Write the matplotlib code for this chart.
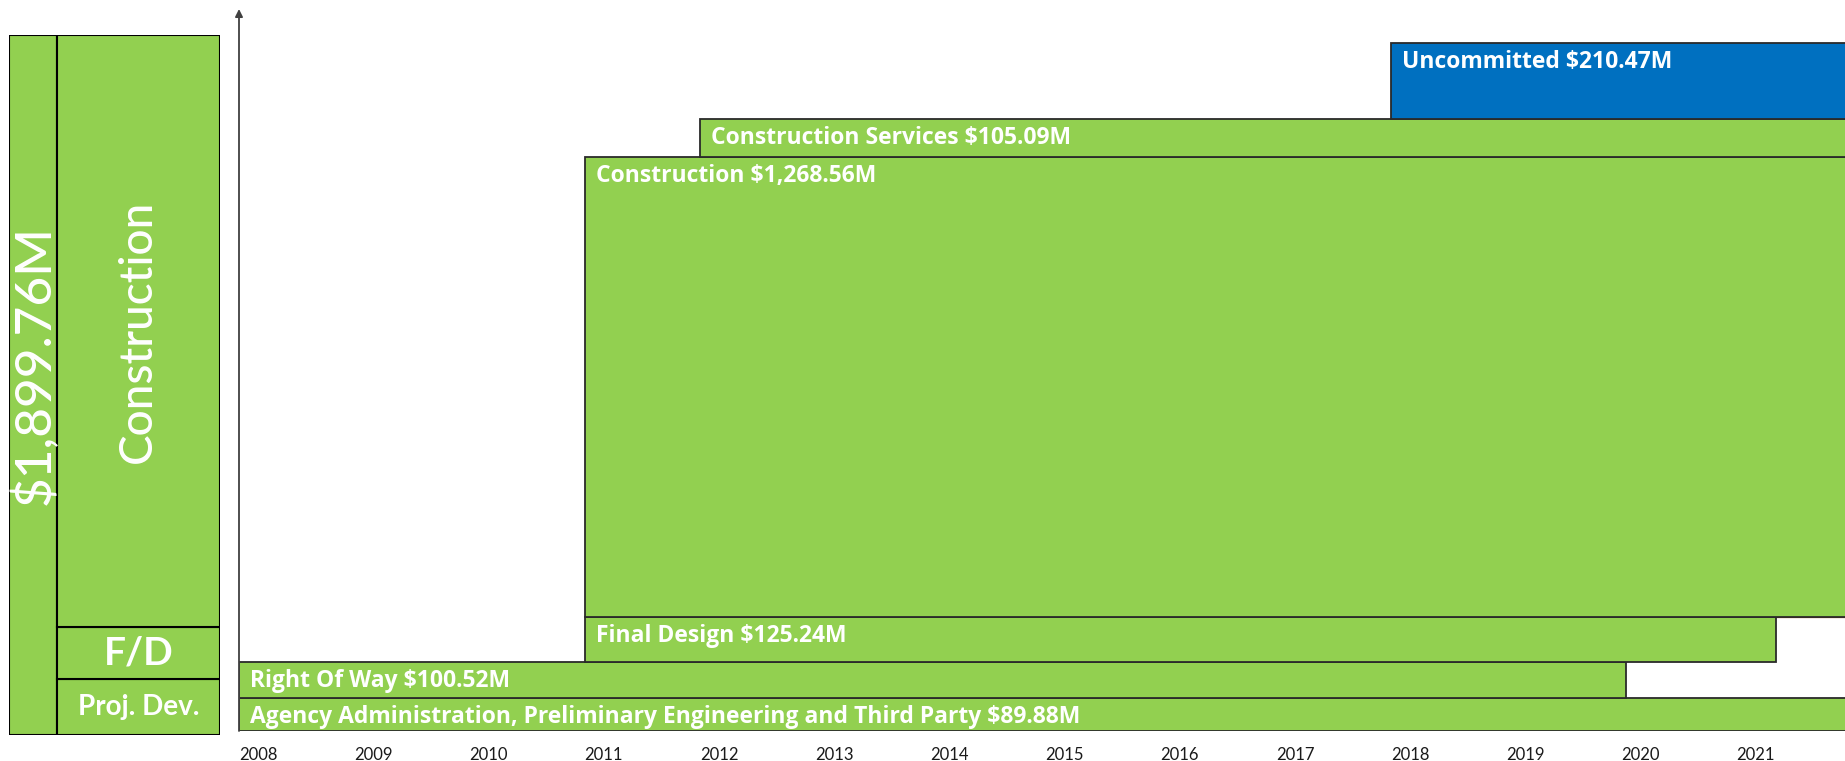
import matplotlib
matplotlib.use("Agg")
import matplotlib.pyplot as plt
from matplotlib.patches import Rectangle

# ---- data ----
labels = ["Agency Administration, Preliminary Engineering and Third Party",
          "Right Of Way", "Final Design", "Construction",
          "Construction Services", "Uncommitted"]
values = [89.88, 100.52, 125.24, 1268.56, 105.09, 210.47]
starts = [2008.0, 2008.0, 2011.0, 2011.0, 2012.0, 2018.0]
ends = [2023.0, 2020.04, 2021.34, 2023.0, 2023.0, 2023.0]
colors = ["#92D050", "#92D050", "#92D050", "#92D050", "#92D050", "#0070C0"]
years = list(range(2008, 2022))
total_label = "$1,899.76M"
panel_labels = ["Proj. Dev.", "F/D", "Construction"]
panel_fracs = [0.080, 0.074, 0.846]

W, H = 1845, 761
fig = plt.figure(figsize=(W / 100, H / 100), dpi=100)
plt.rcParams['font.family'] = ['Lato', 'DejaVu Sans']


def px_axes(x0, y_top, x1, y_bot):
    return fig.add_axes([x0 / W, (H - y_bot) / H, (x1 - x0) / W, (y_bot - y_top) / H])


# ---- main chart ----
ax = px_axes(239, 9, 1845, 731)
px_per_m = (731 - 43) / sum(values)
ax.set_ylim(0, (731 - 9) / px_per_m)
ax.set_xlim(2008, 2008 + (1845 - 239) / 115.2)

bottom = 0.0
for lab, v, s, e, c in zip(labels, values, starts, ends, colors):
    ax.bar(s, v, width=e - s, bottom=bottom, align='edge', color=c,
           edgecolor='#2a2a2a', linewidth=1.3, clip_on=True, zorder=2)
    txt = f"{lab} ${v:,.2f}M"
    ax.annotate(txt, xy=(s, bottom + v), xytext=(8, -18), textcoords='offset points',
                ha='left', va='baseline', color='white', fontsize=16.5, fontweight='bold',
                family=['Open Sans', 'DejaVu Sans'], zorder=5)
    bottom += v

# thin red line where Final Design ends
fd_top = sum(values[:3])
ax.plot([ends[2], 2023], [fd_top, fd_top], color='#A0300A', lw=1.6, zorder=1)

for sp in ['top', 'right', 'bottom', 'left']:
    ax.spines[sp].set_visible(False)
ax.set_yticks([])
ax.set_xticks(years)
ax.set_xticklabels([str(y) for y in years], ha='left', fontsize=12, color='#1a1a1a')
ax.tick_params(axis='x', length=0, pad=11.5)
ax.annotate('', xy=(0, 1), xytext=(0, 0), xycoords='axes fraction',
            arrowprops=dict(arrowstyle='-|>', color='#404040', lw=1.3,
                            mutation_scale=11, shrinkA=0, shrinkB=0))

# ---- left summary panel ----
pax = px_axes(9, 35, 220, 735)
pax.set_xlim(0, 1)
pax.set_ylim(0, 1)
pax.axis('off')
split = (56.5 - 9) / (220 - 9)
pax.add_patch(Rectangle((0, 0), split, 1, facecolor='#92D050', edgecolor='black', lw=1.5))
pax.text(split / 2 + 0.01, 0.529, total_label, rotation=90, ha='center', va='center',
         color='white', fontsize=37, fontweight='medium')
b = 0.0
styles = [dict(fontsize=20, fontweight='bold'),
          dict(fontsize=28, fontweight='bold'),
          dict(fontsize=33, fontweight='medium')]
for lab, f, st in zip(panel_labels, panel_fracs, styles):
    pax.add_patch(Rectangle((split, b), 1 - split, f, facecolor='#92D050',
                            edgecolor='black', lw=1.5))
    rot = 90 if f > 0.5 else 0
    pax.text((split + 1) / 2, b + f / 2, lab, rotation=rot, ha='center', va='center',
             color='white', **st)
    b += f

fig.savefig("out.png", dpi=100)
